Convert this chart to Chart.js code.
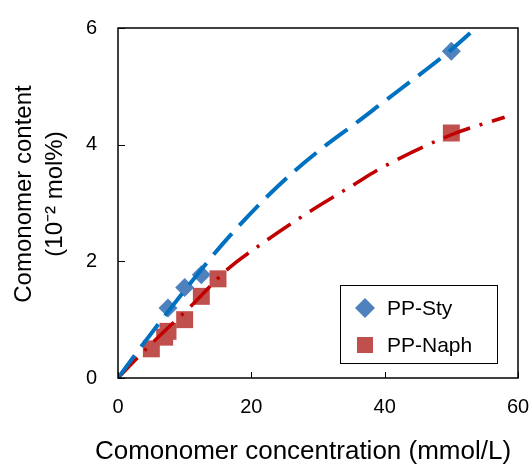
<!DOCTYPE html>
<html>
<head>
<meta charset="utf-8">
<script src="https://cdn.jsdelivr.net/npm/chart.js@4.4.0/dist/chart.umd.min.js"></script>
<style>
  html, body { margin: 0; padding: 0; background: #fff; }
  #wrap { width: 530px; height: 467px; }
</style>
</head>
<body>
<div id="wrap"><canvas id="chart"></canvas></div>
<script>
// measured points
const styConc = [7.5, 10, 12.5, 50];
const styContent = [1.2, 1.55, 1.77, 5.6];
const naphConc = [5, 7, 7.5, 10, 12.5, 15, 50];
const naphContent = [0.5, 0.7, 0.8, 1.0, 1.4, 1.7, 4.2];

// fitted curves
const styFitX = [0, 3.5, 13.5, 16.8, 21.75, 26.3, 31.3, 35.8, 39, 50, 53.5];
const styFitY = [0, 0.54, 2.0, 2.44, 3.04, 3.53, 4.0, 4.38, 4.66, 5.63, 5.98];
const naphFitX = [0, 4.5, 8.5, 10.3, 16.5, 21.3, 28.3, 35.3, 39, 50, 58];
const naphFitY = [0, 0.53, 0.97, 1.16, 1.87, 2.28, 2.82, 3.31, 3.57, 4.17, 4.47];

const xTicks = [0, 20, 40, 60];
const yTicks = [0, 2, 4, 6];
const xTitle = 'Comonomer concentration (mmol/L)';
const yTitle = ['Comonomer content', '(10\u207B\u00B2 mol%)'];

const pts = (xs, ys) => xs.map((x, i) => ({x: x, y: ys[i]}));

const ctx = document.getElementById("chart");
const family = '"Liberation Sans", Arial, sans-serif';

// box, inward ticks
const framePlugin = {
    id: 'frame',
    afterDatasetsDraw(chart) {
        const {ctx, chartArea: a, scales} = chart;
        ctx.save();
        ctx.strokeStyle = '#000';
        ctx.lineWidth = 1.5;
        ctx.strokeRect(a.left, a.top, a.right - a.left, a.bottom - a.top);
        ctx.lineWidth = 1;
        ctx.beginPath();
        xTicks.forEach(v => {
            const px = Math.round(scales.x.getPixelForValue(v)) + 0.5;
            ctx.moveTo(px, a.bottom);
            ctx.lineTo(px, a.bottom - 6);
        });
        yTicks.forEach(v => {
            const py = Math.round(scales.y.getPixelForValue(v)) + 0.5;
            ctx.moveTo(a.left, py);
            ctx.lineTo(a.left + 7, py);
        });
        ctx.stroke();
        ctx.restore();
    }
};

// axis titles (the built-in one squeezes long titles to the axis width)
const titlePlugin = {
    id: 'titles',
    afterDraw(chart) {
        const {ctx, chartArea: a} = chart;
        ctx.save();
        ctx.fillStyle = '#000';
        ctx.textAlign = 'center';
        ctx.textBaseline = 'middle';
        ctx.font = '26px ' + family;
        ctx.fillText(xTitle, (a.left + a.right) / 2 - 15, chart.height - 15);
        ctx.font = '24px ' + family;
        ctx.translate(24, (a.top + a.bottom) / 2 - 9);
        ctx.rotate(-Math.PI / 2);
        yTitle.forEach((t, i) => ctx.fillText(t, 0, i * 31));
        ctx.restore();
    }
};

// legend box inside the plot, bottom right
const legendPlugin = {
    id: 'boxLegend',
    afterDraw(chart) {
        const {ctx, chartArea: a} = chart;
        const items = chart.data.datasets.filter(d => d.inLegend);
        const left = a.right - 178, top = a.bottom - 93;
        ctx.save();
        ctx.fillStyle = '#fff';
        ctx.fillRect(left, top, 157, 78);
        ctx.strokeStyle = '#000';
        ctx.lineWidth = 1;
        ctx.strokeRect(left + 0.5, top + 0.5, 157, 78);
        ctx.font = '21px ' + family;
        ctx.textBaseline = 'middle';
        items.forEach((d, i) => {
            const cy = top + 23 + i * 37;
            const cx = left + 25;
            ctx.fillStyle = d.backgroundColor;
            ctx.beginPath();
            if (d.pointStyle === 'rectRot') {
                const r = 10;
                ctx.moveTo(cx, cy - r);
                ctx.lineTo(cx + r, cy);
                ctx.lineTo(cx, cy + r);
                ctx.lineTo(cx - r, cy);
                ctx.closePath();
            } else {
                ctx.rect(cx - 8, cy - 8, 16, 16);
            }
            ctx.fill();
            ctx.fillStyle = '#000';
            ctx.fillText(d.label, left + 47, cy + 1);
        });
        ctx.restore();
    }
};

new Chart(ctx, {
    type: 'scatter',
    data: {
        datasets: [
            {
                label: 'PP-Sty fit',
                data: pts(styFitX, styFitY),
                showLine: true,
                borderColor: '#0070C0',
                borderWidth: 4,
                borderDash: [28, 11],
                pointRadius: 0,
                cubicInterpolationMode: 'monotone',
                order: 0
            },
            {
                label: 'PP-Naph fit',
                data: pts(naphFitX, naphFitY),
                showLine: true,
                borderColor: '#C00000',
                borderWidth: 3.5,
                borderDash: [28, 10, 3, 10],
                pointRadius: 0,
                cubicInterpolationMode: 'monotone',
                order: 1
            },
            {
                label: 'PP-Sty',
                inLegend: true,
                data: pts(styConc, styContent),
                pointStyle: 'rectRot',
                pointRadius: 9.5,
                backgroundColor: '#4F81BD',
                borderWidth: 0,
                order: 2
            },
            {
                label: 'PP-Naph',
                inLegend: true,
                data: pts(naphConc, naphContent),
                pointStyle: 'rect',
                pointRadius: 12,
                backgroundColor: '#C0504D',
                borderWidth: 0,
                order: 3
            }
        ]
    },
    options: {
        responsive: true,
        maintainAspectRatio: false,
        animation: false,
        layout: {padding: {left: 0, top: 28, right: 12, bottom: 0}},
        plugins: {
            legend: {display: false},
            tooltip: {enabled: false}
        },
        scales: {
            x: {
                type: 'linear',
                min: 0,
                max: 60,
                afterBuildTicks: s => { s.ticks = xTicks.map(v => ({value: v})); },
                afterFit: s => { s.height = 89; s.paddingLeft = 0; s.paddingRight = 0; },
                grid: {drawOnChartArea: false, drawTicks: false},
                border: {display: false},
                ticks: {color: '#000', padding: 17, font: {family: family, size: 20}}
            },
            y: {
                type: 'linear',
                min: 0,
                max: 6,
                afterBuildTicks: s => { s.ticks = yTicks.map(v => ({value: v})); },
                afterFit: s => { s.width = 118; s.paddingTop = 0; s.paddingBottom = 0; },
                grid: {drawOnChartArea: false, drawTicks: false},
                border: {display: false},
                ticks: {color: '#000', padding: 21, font: {family: family, size: 20}}
            }
        }
    },
    plugins: [framePlugin, titlePlugin, legendPlugin]
});
</script>
</body>
</html>
